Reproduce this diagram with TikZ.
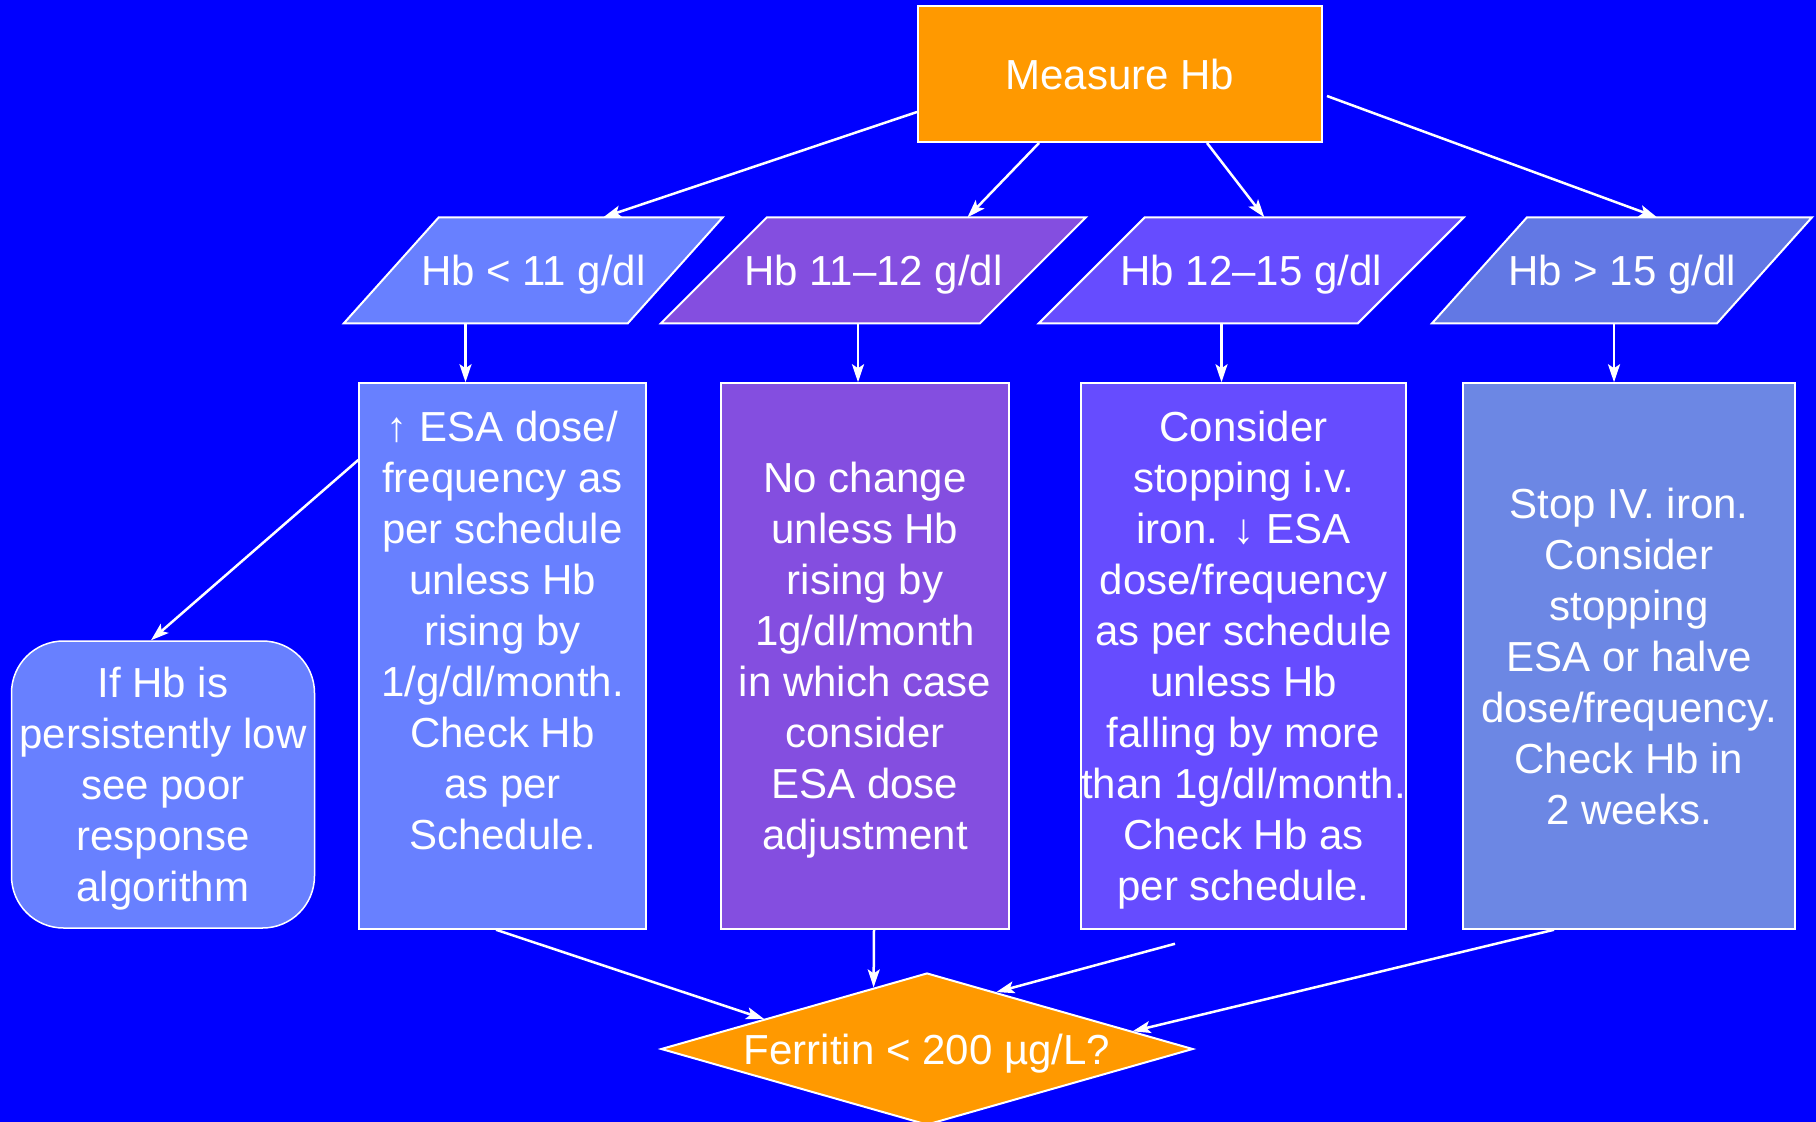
\documentclass[tikz,border=0pt]{standalone}
\usepackage{fontspec}
\setmainfont{Liberation Sans}
\usetikzlibrary{arrows.meta, backgrounds, calc, shapes.geometric}

\definecolor{slidebg}{RGB}{0,0,255}
\definecolor{hbask}{RGB}{255,153,0}
\definecolor{lowhb}{RGB}{104,128,255}
\definecolor{midhb}{RGB}{132,78,224}
\definecolor{okhb}{RGB}{102,76,255}
\definecolor{highhb}{RGB}{98,120,228}
\definecolor{highbox}{RGB}{108,135,228}

% last line of a box: keep its descenders out of the centring
\newcommand{\nodepth}[1]{\raisebox{0pt}[\height][0pt]{#1}}

\begin{document}
\begin{tikzpicture}[
    x=1pt, y=-1pt,
    every node/.style={text=white, font=\fontsize{42}{51}\selectfont},
    measurebox/.style={rectangle, draw=white, line width=2pt, fill=hbask, minimum width=404pt, minimum height=136pt, text depth=0pt},
    hbrange/.style={rectangle, minimum height=106pt, text height=31pt, text depth=0pt, inner sep=0pt, outer sep=0pt},
    box/.style={rectangle, draw=white, line width=1.5pt, minimum height=546pt, align=center, inner sep=0pt},
    decision/.style={diamond, draw=white, line width=2pt, fill=hbask, minimum width=532pt, minimum height=152pt, aspect=3.5, inner sep=0pt, text height=31pt, text depth=0pt},
    arrow/.style={draw=white, line width=2.5pt, -{Stealth[length=18pt, width=12pt, inset=4pt]}}
]
\useasboundingbox (0,0) rectangle (1816,1122);
% Nodes
\node[measurebox] (measure) at (1120,74) {Measure Hb};
\node[hbrange, minimum width=379pt] (low) at (533.3,270.3) {Hb < 11 g/dl};
\node[hbrange, minimum width=425pt] (mid) at (873.5,270.3) {Hb 11–12 g/dl};
\node[hbrange, minimum width=425pt] (ok) at (1251.3,270.3) {Hb 12–15 g/dl};
\node[hbrange, minimum width=380pt] (high) at (1622,270.3) {Hb > 15 g/dl};
% Actions for each range
\node[box, fill=lowhb, minimum width=287pt] (lowact) at (502.5,656)
    {↑ ESA dose/\\frequency as\\per schedule\\unless Hb\\rising by\\1/g/dl/month.\\Check Hb\\as per\\Schedule.\\ \mbox{}};
\node[box, fill=midhb, minimum width=288pt] (midact) at (865,656)
    {No change\\unless Hb\\rising by\\1g/dl/month\\in which case\\consider\\ESA dose\\\nodepth{adjustment}};
\node[box, fill=okhb, minimum width=317pt] (okact) at (1243.5,656)
    {Consider\\stopping i.v.\\iron. ↓ ESA\\dose/frequency\\as per schedule\\unless Hb\\falling by more\\than 1g/dl/month.\\Check Hb as\\\nodepth{per schedule.}};
\node[box, fill=highbox, minimum width=332pt] (highact) at (1629,656)
    {Stop IV. iron.\\Consider\\stopping\\ESA or halve\\dose/frequency.\\Check Hb in\\2 weeks.};
\node[box, rounded corners=52pt, fill=lowhb, minimum width=303pt, minimum height=287pt] (poor) at (163,784.5)
    {If Hb is\\persistently low\\see poor\\response\\\nodepth{algorithm}};
\node[decision] (ferritin) at (927,1049) {Ferritin < 200 µg/L?};
\coordinate (okout) at ([xshift=-68.5pt,yshift=-14pt]okact.south);
% Slide background and the slanted range boxes behind the labels
\begin{scope}[on background layer]
\fill[slidebg] (0,0) rectangle (1816,1122);
\foreach \r/\c/\e in {low/lowhb/95, mid/midhb/106, ok/okhb/106, high/highhb/95}
  \filldraw[fill=\c, draw=white, line width=2pt] (\r.south west) -- ([xshift=-\e pt]\r.south east)
    -- (\r.north east) -- ([xshift=\e pt]\r.north west) -- cycle;
\end{scope}
% Arrows
\draw[arrow] ([yshift=-38pt]measure.west) -- ([xshift=70pt]low.north);
\draw[arrow] ([xshift=-81pt]measure.south) -- ([xshift=94pt]mid.north);
\draw[arrow] ([xshift=87pt]measure.south) -- ([xshift=13pt]ok.north);
\draw[arrow] ([xshift=4pt,yshift=-22pt]measure.east) -- ([xshift=35pt]high.north);
\draw[arrow] ([xshift=-37pt]lowact.north |- low.south) -- ([xshift=-37pt]lowact.north);
\draw[arrow] ([xshift=-7pt]midact.north |- mid.south) -- ([xshift=-7pt]midact.north);
\draw[arrow] ([xshift=-22pt]okact.north |- ok.south) -- ([xshift=-22pt]okact.north);
\draw[arrow] ([xshift=-15pt]highact.north |- high.south) -- ([xshift=-15pt]highact.north);
\draw[arrow] ([yshift=196pt]lowact.west) -- ([xshift=-12pt]poor.north);
\draw[arrow] ([xshift=-6.5pt]lowact.south) -- ($(ferritin.west)!0.39!(ferritin.north)$);
\draw[arrow] ([xshift=9pt]midact.south) -- ($(ferritin.west)!0.8!(ferritin.north)$);
\draw[arrow] (okout) -- ($(ferritin.north)!0.26!(ferritin.east)$);
\draw[arrow] ([xshift=-75pt]highact.south) -- ($(ferritin.north)!0.77!(ferritin.east)$);
\end{tikzpicture}
\end{document}
